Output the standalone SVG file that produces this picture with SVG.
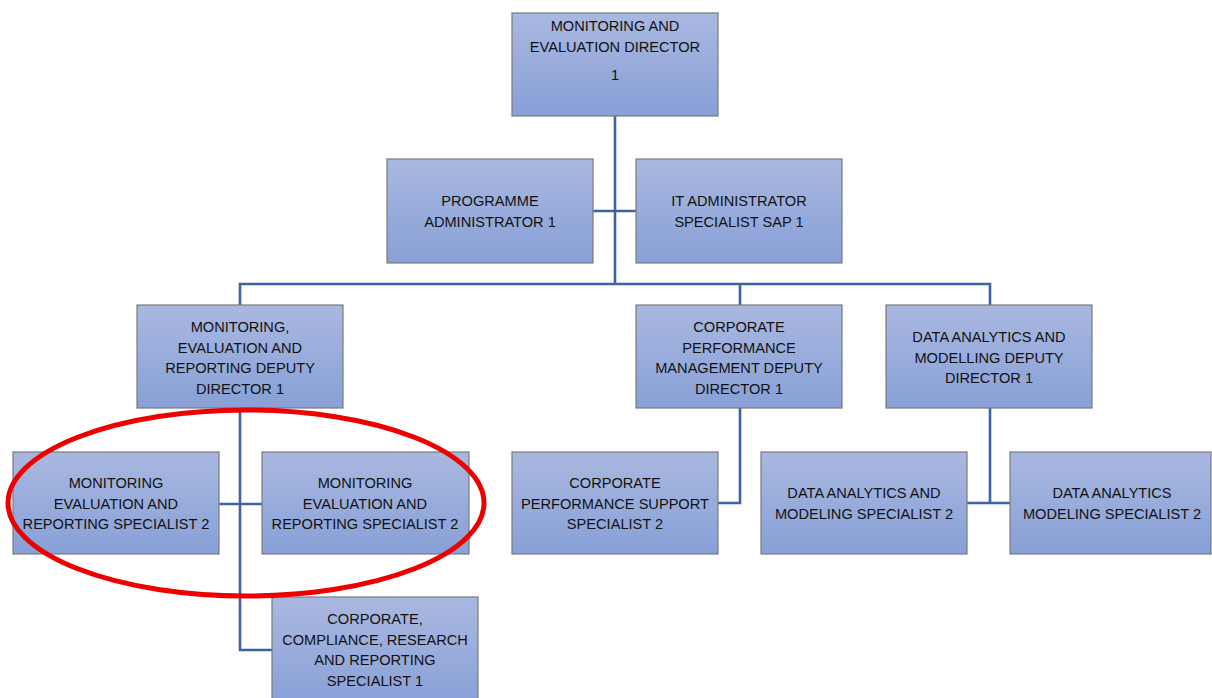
<svg xmlns="http://www.w3.org/2000/svg" width="1212" height="698" viewBox="0 0 1212 698">
<defs>
<linearGradient id="g" x1="0" y1="0" x2="0" y2="1">
<stop offset="0" stop-color="#a9b8e0"/>
<stop offset="1" stop-color="#88a0d7"/>
</linearGradient>
<style>
.box{fill:url(#g);stroke:#7a7a7a;stroke-width:1.2}
.t{font-family:"Liberation Sans",Arial,sans-serif;font-size:14.6px;fill:#111;text-anchor:middle}
.c{fill:none;stroke:#3e62a6;stroke-width:2.6}
</style>
</defs>
<rect width="1212" height="698" fill="#fff"/>
<g id="connectors">
<path class="c" d="M615 116V284"/>
<path class="c" d="M593 211H636"/>
<path class="c" d="M240 305V284H990V305"/>
<path class="c" d="M740 284V305"/>
<path class="c" d="M240 408V650H272"/>
<path class="c" d="M219 504H262"/>
<path class="c" d="M740 408V503H718"/>
<path class="c" d="M990 408V503"/>
<path class="c" d="M967 503H1010"/>
</g>
<g id="director"><rect class="box" x="512" y="13" width="206" height="103"/>
<text class="t" x="615" y="31">MONITORING AND</text><text class="t" x="615" y="52">EVALUATION DIRECTOR</text><text class="t" x="615" y="80">1</text></g>
<g id="prog-admin"><rect class="box" x="387" y="159" width="206" height="104"/>
<text class="t" x="490" y="206">PROGRAMME</text><text class="t" x="490" y="227">ADMINISTRATOR 1</text></g>
<g id="it-admin"><rect class="box" x="636" y="159" width="206" height="104"/>
<text class="t" x="739" y="206">IT ADMINISTRATOR</text><text class="t" x="739" y="227">SPECIALIST SAP 1</text></g>
<g id="mer-deputy"><rect class="box" x="137" y="305" width="206" height="103"/>
<text class="t" x="240" y="332">MONITORING,</text><text class="t" x="240" y="353">EVALUATION AND</text><text class="t" x="240" y="373">REPORTING DEPUTY</text><text class="t" x="240" y="394">DIRECTOR 1</text></g>
<g id="cpm-deputy"><rect class="box" x="636" y="305" width="206" height="103"/>
<text class="t" x="739" y="332">CORPORATE</text><text class="t" x="739" y="353">PERFORMANCE</text><text class="t" x="739" y="373">MANAGEMENT DEPUTY</text><text class="t" x="739" y="394">DIRECTOR 1</text></g>
<g id="dam-deputy"><rect class="box" x="886" y="305" width="206" height="103"/>
<text class="t" x="989" y="342">DATA ANALYTICS AND</text><text class="t" x="989" y="363">MODELLING DEPUTY</text><text class="t" x="989" y="383">DIRECTOR 1</text></g>
<g id="mer-spec-a"><rect class="box" x="13" y="452" width="206" height="102"/>
<text class="t" x="116" y="488">MONITORING</text><text class="t" x="116" y="509">EVALUATION AND</text><text class="t" x="116" y="529">REPORTING SPECIALIST 2</text></g>
<g id="mer-spec-b"><rect class="box" x="262" y="452" width="207" height="102"/>
<text class="t" x="365" y="488">MONITORING</text><text class="t" x="365" y="509">EVALUATION AND</text><text class="t" x="365" y="529">REPORTING SPECIALIST 2</text></g>
<g id="cps-spec"><rect class="box" x="512" y="452" width="206" height="102"/>
<text class="t" x="615" y="488">CORPORATE</text><text class="t" x="615" y="509">PERFORMANCE SUPPORT</text><text class="t" x="615" y="529">SPECIALIST 2</text></g>
<g id="dam-spec"><rect class="box" x="761" y="452" width="206" height="102"/>
<text class="t" x="864" y="498">DATA ANALYTICS AND</text><text class="t" x="864" y="519">MODELING SPECIALIST 2</text></g>
<g id="dam-spec-b"><rect class="box" x="1010" y="452" width="201" height="102"/>
<text class="t" x="1112" y="498">DATA ANALYTICS</text><text class="t" x="1112" y="519">MODELING SPECIALIST 2</text></g>
<g id="ccr-spec"><rect class="box" x="272" y="597" width="206" height="110"/>
<text class="t" x="375" y="624">CORPORATE,</text><text class="t" x="375" y="645">COMPLIANCE, RESEARCH</text><text class="t" x="375" y="665">AND REPORTING</text><text class="t" x="375" y="686">SPECIALIST 1</text></g>
<g id="highlight"><ellipse cx="246" cy="503" rx="238" ry="93" fill="none" stroke="#ee0000" stroke-width="5"/></g>
</svg>
